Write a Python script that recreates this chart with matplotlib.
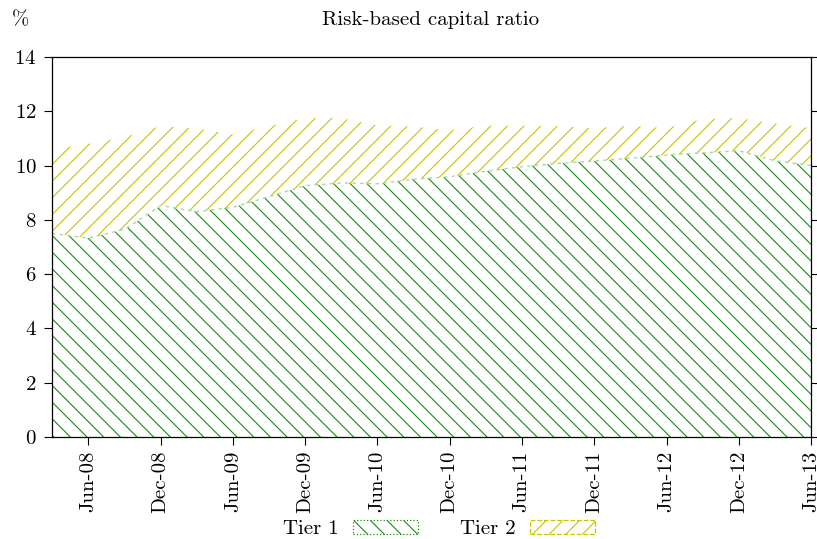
import matplotlib
matplotlib.use("Agg")
import matplotlib.pyplot as plt
from matplotlib.patches import Patch
import pandas as pd

plt.rcParams['font.family'] = ['cmr10', 'DejaVu Serif']
plt.rcParams['axes.formatter.use_mathtext'] = True
plt.rcParams['hatch.linewidth'] = 0.8

quarters = ["2008-03", "2008-06", "2008-09", "2008-12", "2009-03", "2009-06",
            "2009-09", "2009-12", "2010-03", "2010-06", "2010-09", "2010-12",
            "2011-03", "2011-06", "2011-09", "2011-12", "2012-03", "2012-06",
            "2012-09", "2012-12", "2013-03", "2013-06"]
tier1 = [7.50, 7.33, 7.65, 8.53, 8.30, 8.46, 8.86, 9.26, 9.36, 9.33, 9.50, 9.59,
         9.79, 9.96, 10.08, 10.17, 10.27, 10.39, 10.47, 10.55, 10.18, 10.00]
tier2 = [3.10, 3.47, 3.40, 2.92, 3.07, 2.69, 2.59, 2.49, 2.39, 2.15, 1.94, 1.71,
         1.68, 1.51, 1.37, 1.21, 1.20, 0.99, 1.25, 1.20, 1.37, 1.38]
tick_labels = ["Jun-08", "Dec-08", "Jun-09", "Dec-09", "Jun-10", "Dec-10",
               "Jun-11", "Dec-11", "Jun-12", "Dec-12", "Jun-13"]

x = pd.to_datetime(quarters, format="%Y-%m")
top = [a + b for a, b in zip(tier1, tier2)]
ticks = pd.to_datetime(tick_labels, format="%b-%y")

green = "#1a8a1a"
yellow = "#c8c400"
lightgreen = "#a8d8a8"
FS = 15

fig = plt.figure(figsize=(8.17, 5.39), dpi=100)
ax = fig.add_axes([0.0636, 0.1892, 0.9291, 0.705])

ax.fill_between(x, 0, tier1, facecolor="none", edgecolor=green, hatch="\\\\", linewidth=0)
ax.fill_between(x, tier1, top, facecolor="none", edgecolor=yellow, hatch="//", linewidth=0)
ax.plot(x, tier1, color=lightgreen, linestyle=(0, (2.5, 3)), linewidth=1.0)

ax.set_xlim(x[0], x[-1])
ax.set_ylim(0, 14)
ax.set_yticks(range(0, 15, 2))
ax.set_xticks(ticks)
ax.set_xticklabels(tick_labels, rotation=90)
ax.tick_params(axis="both", direction="out", length=6, width=0.8, labelsize=FS)
ax.tick_params(axis="y", right=True, pad=5)
ax.tick_params(axis="x", pad=4)
for s in ax.spines.values():
    s.set_linewidth(0.9)

fig.text(0.5275, 0.963, "Risk-based capital ratio", ha="center", va="center", fontsize=FS)
fig.text(0.025, 0.963, "%", ha="center", va="center", fontsize=FS)

handles = [Patch(facecolor="none", edgecolor=green, hatch="\\\\", linestyle=":", linewidth=0.9),
           Patch(facecolor="none", edgecolor=yellow, hatch="//", linestyle="--", linewidth=0.9)]
fig.legend(handles, ["Tier 1", "Tier 2"], loc="center", bbox_to_anchor=(0.537, 0.018),
           ncol=2, frameon=False, markerfirst=False, handlelength=3.1, handleheight=0.65,
           columnspacing=2.0, handletextpad=0.72, fontsize=FS, borderpad=0.1)

fig.savefig("out.png", dpi=100)
